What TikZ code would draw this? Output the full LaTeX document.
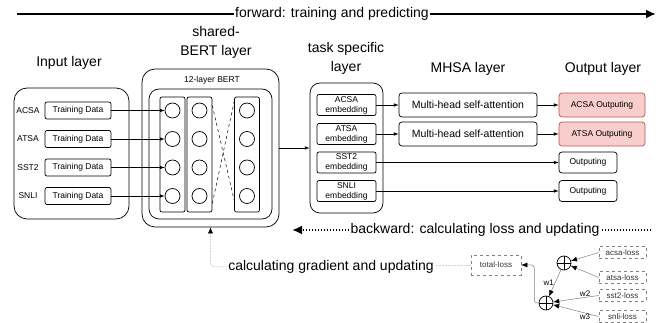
\documentclass[tikz,border=0pt]{standalone}
\usepackage{fontspec}
\setmainfont{Liberation Sans}
\usetikzlibrary{arrows.meta,positioning}

\definecolor{outfill}{HTML}{F8CECC}
\definecolor{outdraw}{HTML}{B85450}

\tikzset{
  bigtext/.style={font=\fontsize{14}{19}\selectfont, inner sep=1pt, align=center},
  smalltext/.style={font=\fontsize{8.5}{10}\selectfont, inner sep=1pt, align=center},
  outerbox/.style={draw, rounded corners=13pt},
  tdbox/.style={draw, rounded corners=2pt, minimum width=66pt, minimum height=17pt, smalltext},
  colbox/.style={draw, rounded corners=2pt, minimum width=25pt, minimum height=115pt},
  neuron/.style={draw, circle, minimum size=15pt, inner sep=0pt},
  embbox/.style={draw, rounded corners=2pt, minimum width=59pt, minimum height=21pt, smalltext},
  mhsabox/.style={draw, rounded corners=3pt, minimum width=138pt, minimum height=24pt,
    font=\fontsize{10.5}{12}\selectfont},
  outbox/.style={draw, rounded corners=3pt, minimum height=24pt, smalltext, font=\fontsize{8.5}{10}\selectfont},
  lossbox/.style={draw=gray, dashed, line width=0.5pt, minimum width=47pt, minimum height=12pt,
    inner sep=1pt, text=gray!40!black, font=\fontsize{8}{9}\selectfont},
  sumnode/.style={draw, circle, minimum size=14pt, inner sep=0pt,
    path picture={\draw (path picture bounding box.north) -- (path picture bounding box.south)
      (path picture bounding box.west) -- (path picture bounding box.east);}},
  lossline/.style={draw=gray, line width=0.5pt},
}

\begin{document}
\begin{tikzpicture}[x=1pt, y=-1pt, line width=0.7pt]
\useasboundingbox (0,0) rectangle (662,323);

\node [bigtext] (fwd) at (332,14) {forward: training and predicting};
\coordinate (fwdstart) at (17,14);
\coordinate (fwdend) at (656,14);

\node [bigtext] (intitle) at (69,63) {Input layer};
\node [bigtext] (berttitle) at (216,42.5) {shared-\\BERT layer};
\node [bigtext] (tasktitle) at (346,58) {task specific\\layer};
\node [bigtext] (mhsatitle) at (468,69) {MHSA layer};
\node [bigtext] (outtitle) at (603,69) {Output layer};

\node [outerbox, minimum width=115pt, minimum height=131pt] (inbox) at (71.5,153.5) {};
\node [smalltext] (acsa) at (28,110.5) {ACSA};
\node [smalltext] (atsa) at (28,139) {ATSA};
\node [smalltext] (sst) at (28,167.5) {SST2};
\node [smalltext] (snli) at (28,196) {SNLI};
\node [tdbox] (td1) at (78,110.5) {Training Data};
\node [tdbox] (td2) at (78,139) {Training Data};
\node [tdbox] (td3) at (78,167.5) {Training Data};
\node [tdbox] (td4) at (78,196) {Training Data};

\node [outerbox, minimum width=137pt, minimum height=158pt] (bert) at (210.5,148) {};
\node [smalltext] (berttext) at (212,80) {12-layer BERT};
\node [draw, rounded corners=10pt, minimum width=123pt, minimum height=130pt] (bertin) at (210.5,154) {};
\node [colbox] (col1) at (172.5,154.5) {};
\node [colbox] (col2) at (199.5,154.5) {};
\node [colbox] (col3) at (247,154.5) {};
\node [neuron] (n11) at (172.5,110.5) {};
\node [neuron] (n12) at (172.5,139) {};
\node [neuron] (n13) at (172.5,167.5) {};
\node [neuron] (n14) at (172.5,196) {};
\node [neuron] (n21) at (199.5,110.5) {};
\node [neuron] (n22) at (199.5,139) {};
\node [neuron] (n23) at (199.5,167.5) {};
\node [neuron] (n24) at (199.5,196) {};
\node [neuron] (n31) at (247,110.5) {};
\node [neuron] (n32) at (247,139) {};
\node [neuron] (n33) at (247,167.5) {};
\node [neuron] (n34) at (247,196) {};

\node [outerbox, rounded corners=10pt, minimum width=73pt, minimum height=130pt] (task) at (346.5,148) {};
\node [embbox] (emb1) at (346.5,105) {ACSA\\embedding};
\node [embbox] (emb2) at (346.5,134) {ATSA\\embedding};
\node [embbox] (emb3) at (346.5,162.5) {SST2\\embedding};
\node [embbox] (emb4) at (346.5,191) {SNLI\\embedding};

\node [mhsabox] (mhsa1) at (468,105) {Multi-head self-attention};
\node [mhsabox] (mhsa2) at (468,134) {Multi-head self-attention};

\node [outbox, fill=outfill, draw=outdraw, minimum width=86pt] (out1) at (602,105) {ACSA Outputing};
\node [outbox, fill=outfill, draw=outdraw, minimum width=86pt] (out2) at (602,134) {ATSA Outputing};
\node [outbox, minimum width=58pt, minimum height=21pt] (out3) at (588,162.5) {Outputing};
\node [outbox, minimum width=58pt, minimum height=21pt] (out4) at (588,191) {Outputing};

\node [bigtext] (bwd) at (475,230) {backward: calculating loss and updating};
\coordinate (bwdstart) at (651,230);
\coordinate (bwdend) at (292,230);
\node [bigtext] (grad) at (331,267) {calculating gradient and updating};

\node [lossbox, minimum width=50pt, minimum height=20pt] (total) at (496,265) {total-loss};
\node [sumnode] (sum1) at (564,263) {};
\node [sumnode] (sum2) at (546,303) {};
\node [lossbox] (acsaloss) at (622.5,252.5) {acsa-loss};
\node [lossbox] (atsaloss) at (622.5,277.5) {atsa-loss};
\node [lossbox] (sstloss) at (622.5,295.5) {sst2-loss};
\node [lossbox] (snliloss) at (622.5,316.5) {snli-loss};

\draw [line width=2pt] (fwdstart) -- (fwd.west);
\draw [line width=2pt, -{Latex[length=10pt,width=9pt]}] (fwd.east) -- (fwdend);

\draw [-latex] (td1) -- (n11);
\draw [-latex] (td2) -- (n12);
\draw [-latex] (td3) -- (n13);
\draw [-latex] (td4) -- (n14);
\draw [dashed, line width=0.5pt] ([yshift=-9pt]col2.north east) -- ([yshift=12pt]col3.south west);
\draw [dashed, line width=0.5pt] ([yshift=9pt]col2.south east) -- ([yshift=-5pt]col3.north west);

\draw [-latex] (bert) -- (task);
\draw [-latex] (emb1) -- (mhsa1);
\draw [-latex] (emb2) -- (mhsa2);
\draw [-latex] (mhsa1) -- (out1);
\draw [-latex] (mhsa2) -- (out2);
\draw [-latex] (emb3) -- (out3);
\draw [-latex] (emb4) -- (out4);

\draw [line width=2pt, dash pattern=on 1.5pt off 1.5pt] (bwdstart) -- (bwd.east);
\draw [line width=2pt, dash pattern=on 1.5pt off 1.5pt, -{Latex[length=10pt,width=9pt]}] (bwd.west) -- (bwdend);

\draw [lossline, densely dotted] (total) -- (grad);
\draw [lossline, densely dotted, rounded corners=4pt, -{Latex[black,length=6pt,width=5pt]}] (grad.west) -| (bert.south);

\draw [lossline, -{Latex[black,length=6pt,width=5pt]}] (acsaloss.west) -- (sum1);
\draw [lossline, -{Latex[black,length=6pt,width=5pt]}] (atsaloss.west) -- (sum1);
\draw [lossline, -{Latex[black,length=6pt,width=5pt]}] (sum1) -- node [left, smalltext, font=\fontsize{8}{9}\selectfont] {w1} (sum2);
\draw [lossline, -{Latex[black,length=6pt,width=5pt]}] (sstloss.west) -- node [above, pos=0.3, smalltext, font=\fontsize{8}{9}\selectfont] {w2} (sum2);
\draw [lossline, -{Latex[black,length=6pt,width=5pt]}] (snliloss.west) -- node [below, pos=0.3, smalltext, font=\fontsize{8}{9}\selectfont] {w3} (sum2);
\draw [lossline, rounded corners=3pt, -{Latex[black,length=6pt,width=5pt]}] (sum2.west) -| ([xshift=13pt]total.east) -- (total.east);

\end{tikzpicture}
\end{document}
